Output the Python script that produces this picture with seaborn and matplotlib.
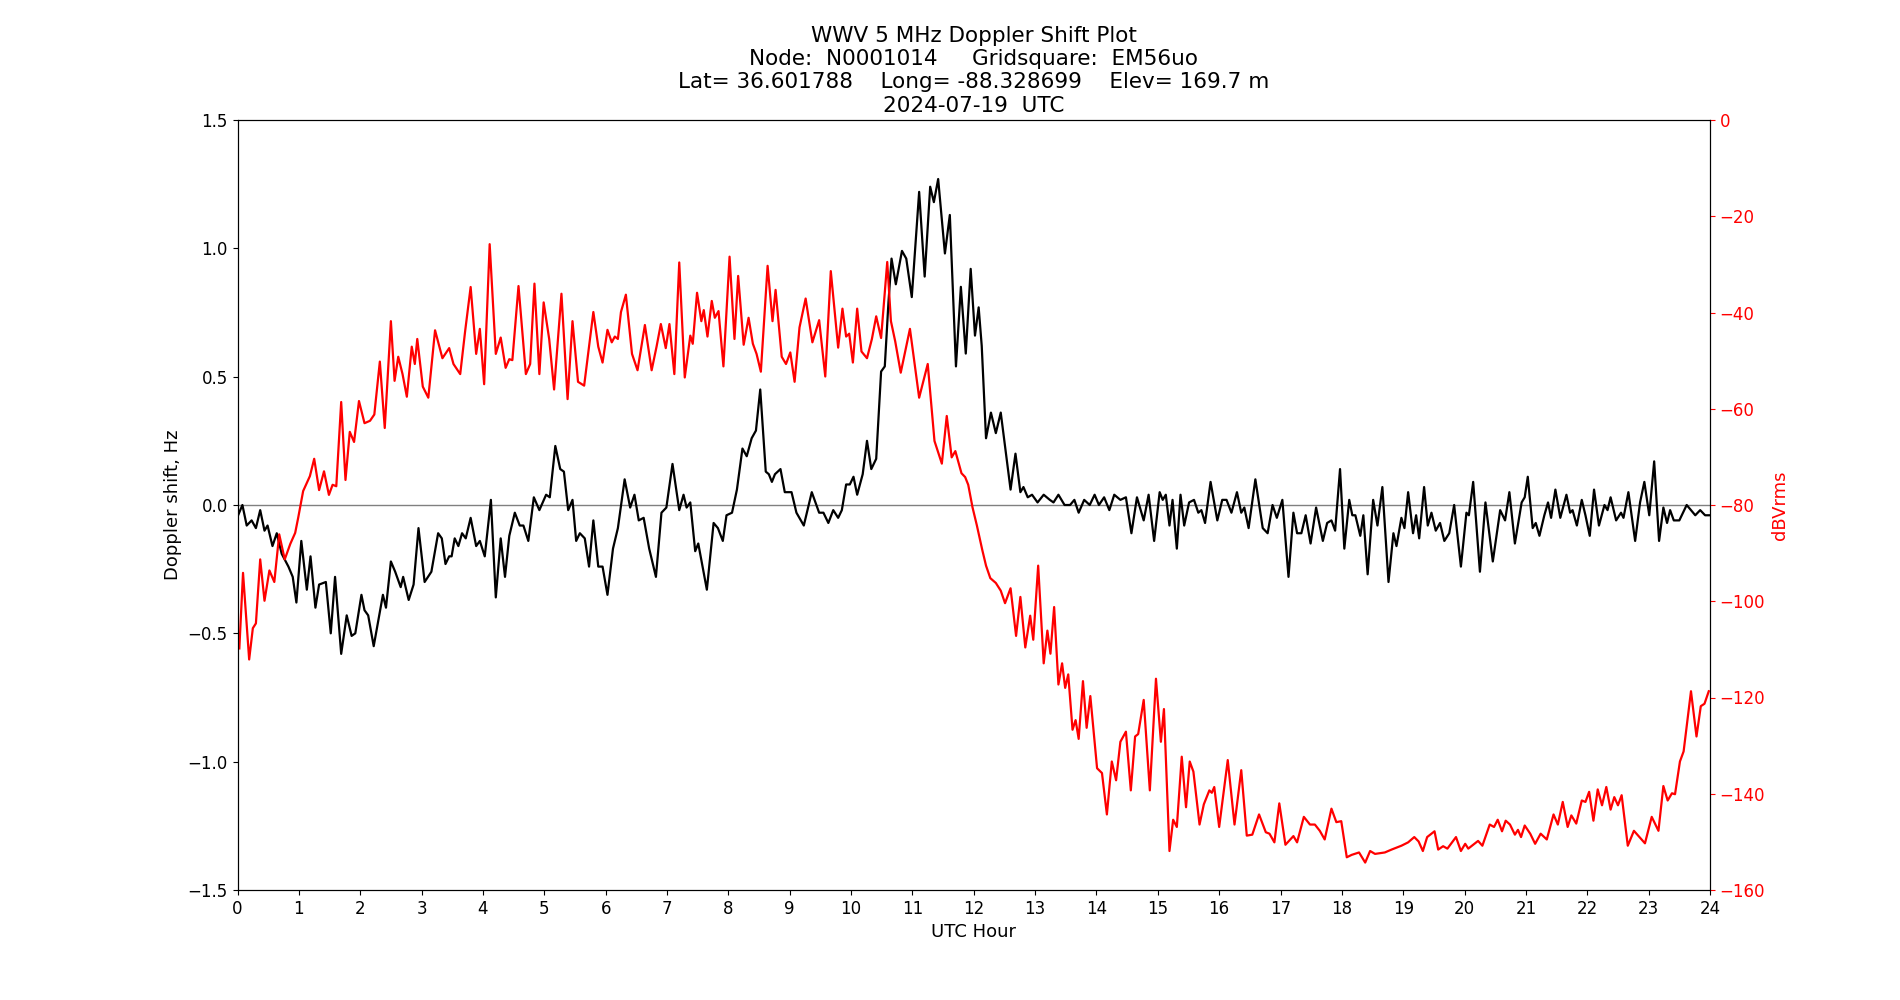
import numpy as np
import pandas as pd
import matplotlib
matplotlib.use("Agg")
import matplotlib.pyplot as plt
import seaborn as sns

# -----------------------------------------------------------------------------
# Values (UTC hour, value)
# -----------------------------------------------------------------------------
doppler_hours = [
    0.01, 0.08, 0.15, 0.23, 0.30, 0.37, 0.44, 0.49, 0.57, 0.64, 0.72, 0.83, 0.90, 0.96,
    1.04, 1.13, 1.19, 1.27, 1.33, 1.44, 1.52, 1.59, 1.69, 1.78, 1.86, 1.92,
    2.02, 2.07, 2.13, 2.22, 2.37, 2.42, 2.50, 2.57, 2.66, 2.70, 2.79, 2.87, 2.95,
    3.05, 3.16, 3.27, 3.33, 3.39, 3.45, 3.49, 3.54, 3.60, 3.66, 3.72, 3.80, 3.89, 3.95,
    4.03, 4.13, 4.21, 4.29, 4.36, 4.43, 4.52, 4.60, 4.66, 4.74, 4.83, 4.92,
    5.03, 5.09, 5.18, 5.26, 5.32, 5.39, 5.46, 5.52, 5.58, 5.66, 5.73, 5.80, 5.88, 5.95,
    6.03, 6.12, 6.20, 6.31, 6.40, 6.47, 6.54, 6.62, 6.71, 6.82, 6.91, 6.99,
    7.09, 7.20, 7.27, 7.32, 7.38, 7.46, 7.51, 7.65, 7.76, 7.83, 7.91, 7.97,
    8.06, 8.14, 8.23, 8.30, 8.38, 8.45, 8.52, 8.61, 8.66, 8.71, 8.76, 8.85, 8.92,
    9.03, 9.11, 9.23, 9.36, 9.48, 9.55, 9.63, 9.71, 9.79, 9.85, 9.92, 9.98,
    10.04, 10.10, 10.19, 10.26, 10.33, 10.41, 10.49, 10.55, 10.61, 10.66, 10.73, 10.83, 10.90, 10.99,
    11.11, 11.20, 11.29, 11.35, 11.42, 11.53, 11.61, 11.71, 11.79, 11.87, 11.95,
    12.02, 12.08, 12.13, 12.20, 12.28, 12.36, 12.44, 12.52, 12.60, 12.68, 12.76, 12.81, 12.88, 12.95,
    13.04, 13.14, 13.24, 13.30, 13.38, 13.48, 13.57, 13.64, 13.71, 13.80, 13.89, 13.97,
    14.04, 14.125, 14.21, 14.29, 14.39, 14.48, 14.57, 14.66, 14.77, 14.85, 14.94,
    15.03, 15.08, 15.13, 15.19, 15.24, 15.31, 15.37, 15.43, 15.51, 15.59, 15.66, 15.71, 15.77, 15.86, 15.97,
    16.05, 16.12, 16.20, 16.29, 16.36, 16.41, 16.48, 16.59, 16.71, 16.79, 16.87, 16.94,
    17.03, 17.13, 17.21, 17.27, 17.34, 17.41, 17.49, 17.58, 17.69, 17.76, 17.83, 17.89, 17.97,
    18.04, 18.12, 18.17, 18.22, 18.30, 18.35, 18.42, 18.51, 18.58, 18.66, 18.76, 18.84, 18.89, 18.97,
    19.02, 19.08, 19.16, 19.21, 19.26, 19.34, 19.40, 19.46, 19.53, 19.60, 19.67, 19.75, 19.83, 19.94,
    20.03, 20.07, 20.14, 20.25, 20.34, 20.46, 20.58, 20.66, 20.73, 20.82, 20.93, 20.98,
    21.03, 21.11, 21.16, 21.22, 21.30, 21.36, 21.41, 21.48, 21.56, 21.66, 21.72, 21.76, 21.83, 21.91, 21.97,
    22.04, 22.11, 22.19, 22.28, 22.33, 22.38, 22.47, 22.55, 22.59, 22.67, 22.78, 22.86, 22.93,
    23.01, 23.09, 23.17, 23.24, 23.30, 23.35, 23.41, 23.50, 23.62, 23.76, 23.84, 23.92, 24.0,
]
doppler_hz = [
    -0.04, 0.00, -0.08, -0.06, -0.09, -0.02, -0.10, -0.08, -0.16, -0.11, -0.19, -0.24, -0.28, -0.38,
    -0.14, -0.33, -0.20, -0.40, -0.31, -0.30, -0.50, -0.28, -0.58, -0.43, -0.51, -0.50,
    -0.35, -0.41, -0.43, -0.55, -0.35, -0.40, -0.22, -0.26, -0.32, -0.28, -0.37, -0.31, -0.09,
    -0.30, -0.26, -0.11, -0.13, -0.23, -0.20, -0.20, -0.13, -0.16, -0.11, -0.13, -0.05, -0.16, -0.14,
    -0.20, 0.02, -0.36, -0.13, -0.28, -0.12, -0.03, -0.08, -0.08, -0.14, 0.03, -0.02,
    0.04, 0.03, 0.23, 0.14, 0.13, -0.02, 0.02, -0.14, -0.11, -0.13, -0.24, -0.06, -0.24, -0.24,
    -0.35, -0.17, -0.09, 0.10, -0.01, 0.04, -0.06, -0.05, -0.17, -0.28, -0.03, -0.01,
    0.16, -0.02, 0.04, -0.01, 0.01, -0.18, -0.15, -0.33, -0.07, -0.09, -0.14, -0.04,
    -0.03, 0.06, 0.22, 0.19, 0.26, 0.29, 0.45, 0.13, 0.12, 0.09, 0.12, 0.14, 0.05,
    0.05, -0.03, -0.08, 0.05, -0.03, -0.03, -0.07, -0.02, -0.05, -0.02, 0.08, 0.08,
    0.11, 0.04, 0.12, 0.25, 0.14, 0.18, 0.52, 0.54, 0.79, 0.96, 0.86, 0.99, 0.96, 0.81,
    1.22, 0.89, 1.24, 1.18, 1.27, 0.98, 1.13, 0.54, 0.85, 0.59, 0.92,
    0.66, 0.77, 0.62, 0.26, 0.36, 0.28, 0.36, 0.21, 0.06, 0.20, 0.05, 0.07, 0.03, 0.04,
    0.01, 0.04, 0.02, 0.01, 0.04, 0.00, 0.00, 0.02, -0.03, 0.02, 0.00, 0.04,
    0.00, 0.03, -0.02, 0.04, 0.02, 0.03, -0.11, 0.03, -0.06, 0.04, -0.14,
    0.05, 0.02, 0.04, -0.08, 0.02, -0.17, 0.04, -0.08, 0.01, 0.02, -0.03, -0.02, -0.07, 0.09, -0.06,
    0.02, 0.02, -0.03, 0.05, -0.03, -0.01, -0.09, 0.10, -0.09, -0.11, 0.00, -0.05,
    0.02, -0.28, -0.03, -0.11, -0.11, -0.04, -0.15, -0.01, -0.14, -0.07, -0.06, -0.10, 0.14,
    -0.17, 0.02, -0.04, -0.04, -0.12, -0.04, -0.27, 0.02, -0.08, 0.07, -0.30, -0.11, -0.16, -0.05,
    -0.09, 0.05, -0.11, -0.04, -0.13, 0.07, -0.08, -0.03, -0.10, -0.07, -0.14, -0.11, 0.00, -0.24,
    -0.03, -0.04, 0.09, -0.26, 0.01, -0.22, -0.02, -0.06, 0.05, -0.15, 0.01, 0.03,
    0.11, -0.09, -0.07, -0.12, -0.04, 0.01, -0.05, 0.06, -0.05, 0.04, -0.03, -0.02, -0.08, 0.02, -0.04,
    -0.12, 0.06, -0.08, 0.00, -0.02, 0.03, -0.06, -0.03, -0.05, 0.05, -0.14, 0.01, 0.09,
    -0.04, 0.17, -0.14, -0.01, -0.07, -0.02, -0.06, -0.06, 0.00, -0.04, -0.02, -0.04, -0.04,
]

power_hours = [
    0.03, 0.09, 0.19, 0.25, 0.30, 0.37, 0.44, 0.52, 0.60, 0.68, 0.77, 0.86, 0.94, 0.99,
    1.07, 1.18, 1.25, 1.33, 1.41, 1.49, 1.55, 1.61, 1.69, 1.76, 1.83, 1.90, 1.98,
    2.07, 2.16, 2.23, 2.32, 2.40, 2.50, 2.56, 2.62, 2.69, 2.76, 2.84, 2.89, 2.93,
    3.02, 3.11, 3.22, 3.34, 3.45, 3.52, 3.63, 3.71, 3.80, 3.89, 3.95,
    4.02, 4.11, 4.21, 4.29, 4.37, 4.43, 4.48, 4.58, 4.70, 4.77, 4.84, 4.92, 4.99,
    5.08, 5.16, 5.28, 5.38, 5.46, 5.55, 5.65, 5.80, 5.88, 5.95,
    6.03, 6.10, 6.15, 6.20, 6.25, 6.33, 6.43, 6.52, 6.64, 6.75, 6.83, 6.90, 6.98,
    7.04, 7.12, 7.20, 7.29, 7.38, 7.42, 7.49, 7.56, 7.60, 7.66, 7.73, 7.78, 7.84, 7.92,
    8.02, 8.10, 8.16, 8.25, 8.33, 8.40, 8.46, 8.53, 8.64, 8.72, 8.77, 8.87, 8.94,
    9.01, 9.08, 9.16, 9.26, 9.37, 9.48, 9.58, 9.67, 9.79, 9.86, 9.92, 9.97,
    10.03, 10.10, 10.17, 10.26, 10.34, 10.41, 10.49, 10.59, 10.65, 10.72, 10.81, 10.96,
    11.11, 11.25, 11.36, 11.48, 11.56, 11.64, 11.70, 11.80, 11.86, 11.91, 11.98,
    12.05, 12.14, 12.20, 12.27, 12.36, 12.44, 12.51, 12.60, 12.69, 12.76, 12.84, 12.92, 12.97,
    13.05, 13.14, 13.20, 13.25, 13.31, 13.38, 13.44, 13.49, 13.54, 13.61, 13.66, 13.71, 13.78, 13.84, 13.90,
    14.01, 14.09, 14.17, 14.25, 14.32, 14.39, 14.48, 14.56, 14.63, 14.68, 14.77, 14.87, 14.97,
    15.05, 15.10, 15.19, 15.25, 15.31, 15.39, 15.46, 15.52, 15.58, 15.68, 15.75, 15.84, 15.88, 15.92,
    16.00, 16.14, 16.25, 16.36, 16.45, 16.54, 16.65, 16.76, 16.82, 16.90, 16.98,
    17.08, 17.21, 17.27, 17.38, 17.48, 17.56, 17.64, 17.72, 17.83, 17.91, 17.99,
    18.08, 18.16, 18.28, 18.38, 18.46, 18.54, 18.70, 18.81, 18.97,
    19.08, 19.18, 19.25, 19.32, 19.39, 19.51, 19.57, 19.65, 19.72, 19.86, 19.94,
    20.01, 20.06, 20.22, 20.29, 20.41, 20.48, 20.54, 20.61, 20.67, 20.74, 20.82, 20.87, 20.92, 20.98,
    21.07, 21.15, 21.24, 21.34, 21.45, 21.52, 21.60, 21.68, 21.74, 21.82, 21.91, 21.97,
    22.03, 22.10, 22.17, 22.24, 22.31, 22.38, 22.44, 22.50, 22.56, 22.66, 22.76, 22.85, 22.94,
    23.05, 23.16, 23.24, 23.31, 23.38, 23.43, 23.51, 23.57, 23.69, 23.78, 23.85, 23.91, 23.98,
]
power_db = [
    -109.8, -94.1, -112.1, -105.6, -104.6, -91.3, -99.9, -93.6, -96.0, -86.1, -91.3, -88.1, -85.8, -82.6,
    -77.1, -74.0, -70.4, -76.9, -73.0, -77.9, -75.8, -76.1, -58.6, -74.8, -64.8, -66.9, -58.4,
    -63.0, -62.5, -61.2, -50.2, -64.0, -41.8, -54.2, -49.2, -52.8, -57.5, -47.1, -50.7, -45.5,
    -55.4, -57.7, -43.7, -49.5, -47.4, -50.7, -52.8, -43.9, -34.7, -48.6, -43.4,
    -54.9, -25.8, -48.6, -45.2, -51.5, -49.7, -49.9, -34.5, -52.8, -50.7, -34.0, -52.8, -37.9,
    -45.5, -56.0, -36.1, -58.0, -41.8, -54.4, -55.2, -39.9, -47.1, -50.4,
    -43.6, -46.2, -45.0, -45.5, -39.9, -36.3, -48.6, -52.0, -42.6, -52.0, -47.1, -42.4, -47.4,
    -42.4, -52.8, -29.6, -53.5, -44.8, -46.5, -35.9, -41.8, -39.5, -45.0, -37.6, -41.1, -39.7, -51.2,
    -28.4, -45.5, -32.4, -46.7, -41.1, -46.5, -48.6, -52.3, -30.3, -41.8, -35.3, -49.2, -50.7,
    -48.3, -54.4, -43.1, -37.1, -46.2, -41.6, -53.3, -31.4, -47.3, -39.2, -45.0, -44.4,
    -50.4, -39.2, -48.1, -49.5, -45.5, -40.8, -45.3, -29.5, -41.8, -46.0, -52.5, -43.4,
    -57.7, -50.7, -66.7, -71.4, -61.5, -70.1, -68.8, -73.4, -74.2, -75.8, -80.5,
    -84.2, -89.4, -92.6, -95.2, -96.2, -97.8, -100.4, -97.3, -107.2, -99.1, -109.6, -103.0, -108.0,
    -92.6, -112.9, -106.1, -110.9, -101.2, -117.3, -112.9, -118.0, -115.2, -126.7, -124.7, -128.6, -116.6, -126.3, -119.7,
    -134.7, -135.7, -144.3, -133.3, -137.2, -129.2, -127.1, -139.3, -128.1, -127.6, -120.5, -139.3, -116.1,
    -129.2, -122.4, -151.9, -145.4, -146.9, -132.3, -142.8, -133.3, -135.4, -146.4, -142.2, -139.3, -139.8, -138.6,
    -146.9, -133.0, -146.4, -135.1, -148.7, -148.5, -144.3, -148.0, -148.3, -150.1, -142.0,
    -150.6, -148.8, -150.1, -144.8, -146.4, -146.4, -147.7, -149.5, -143.1, -145.9, -145.7,
    -153.2, -152.7, -152.2, -154.3, -151.9, -152.5, -152.2, -151.6, -150.8,
    -150.1, -149.0, -149.9, -151.9, -149.0, -147.8, -151.6, -150.9, -151.4, -149.0, -151.9,
    -150.4, -151.4, -149.8, -150.8, -146.4, -146.9, -145.4, -147.8, -145.6, -146.4, -148.5, -147.5, -149.0, -146.6,
    -148.3, -150.4, -148.3, -149.5, -144.3, -146.4, -141.7, -146.9, -144.5, -146.2, -141.4, -141.7,
    -139.6, -145.6, -139.1, -142.4, -138.6, -143.3, -140.7, -142.4, -140.3, -150.8, -147.7, -149.0, -150.3,
    -144.8, -147.7, -138.4, -141.4, -139.9, -140.1, -133.3, -131.2, -118.7, -128.1, -121.8, -121.3, -118.7,
]

title_lines = [
    "WWV 5 MHz Doppler Shift Plot",
    "Node:  N0001014     Gridsquare:  EM56uo",
    "Lat= 36.601788    Long= -88.328699    Elev= 169.7 m",
    "2024-07-19  UTC",
]

# -----------------------------------------------------------------------------
# Plot
# -----------------------------------------------------------------------------
dop = pd.DataFrame({"hour": doppler_hours, "shift": doppler_hz})
pwr = pd.DataFrame({"hour": power_hours, "db": power_db})

fig, ax = plt.subplots(figsize=(19, 10), dpi=100)
ax2 = ax.twinx()

ax.axhline(0, color="gray", linewidth=1)
sns.lineplot(data=dop, x="hour", y="shift", ax=ax, color="black",
             linewidth=1.6, sort=False, estimator=None)
sns.lineplot(data=pwr, x="hour", y="db", ax=ax2, color="red",
             linewidth=1.6, sort=False, estimator=None)

ax.set_xlim(0, 24)
ax.set_xticks(range(0, 25))
ax.set_ylim(-1.5, 1.5)
ax2.set_ylim(-160, 0)

ax.set_xlabel("UTC Hour", fontsize=13)
ax.set_ylabel("Doppler shift, Hz", fontsize=13)
ax2.set_ylabel("dBVrms", fontsize=13, color="red")
ax.tick_params(labelsize=12)
ax2.tick_params(axis="y", labelsize=12, colors="red")
ax2.spines["right"].set_color("black")

ax.set_title("\n".join(title_lines), fontsize=15.5)

fig.savefig("out.png")
